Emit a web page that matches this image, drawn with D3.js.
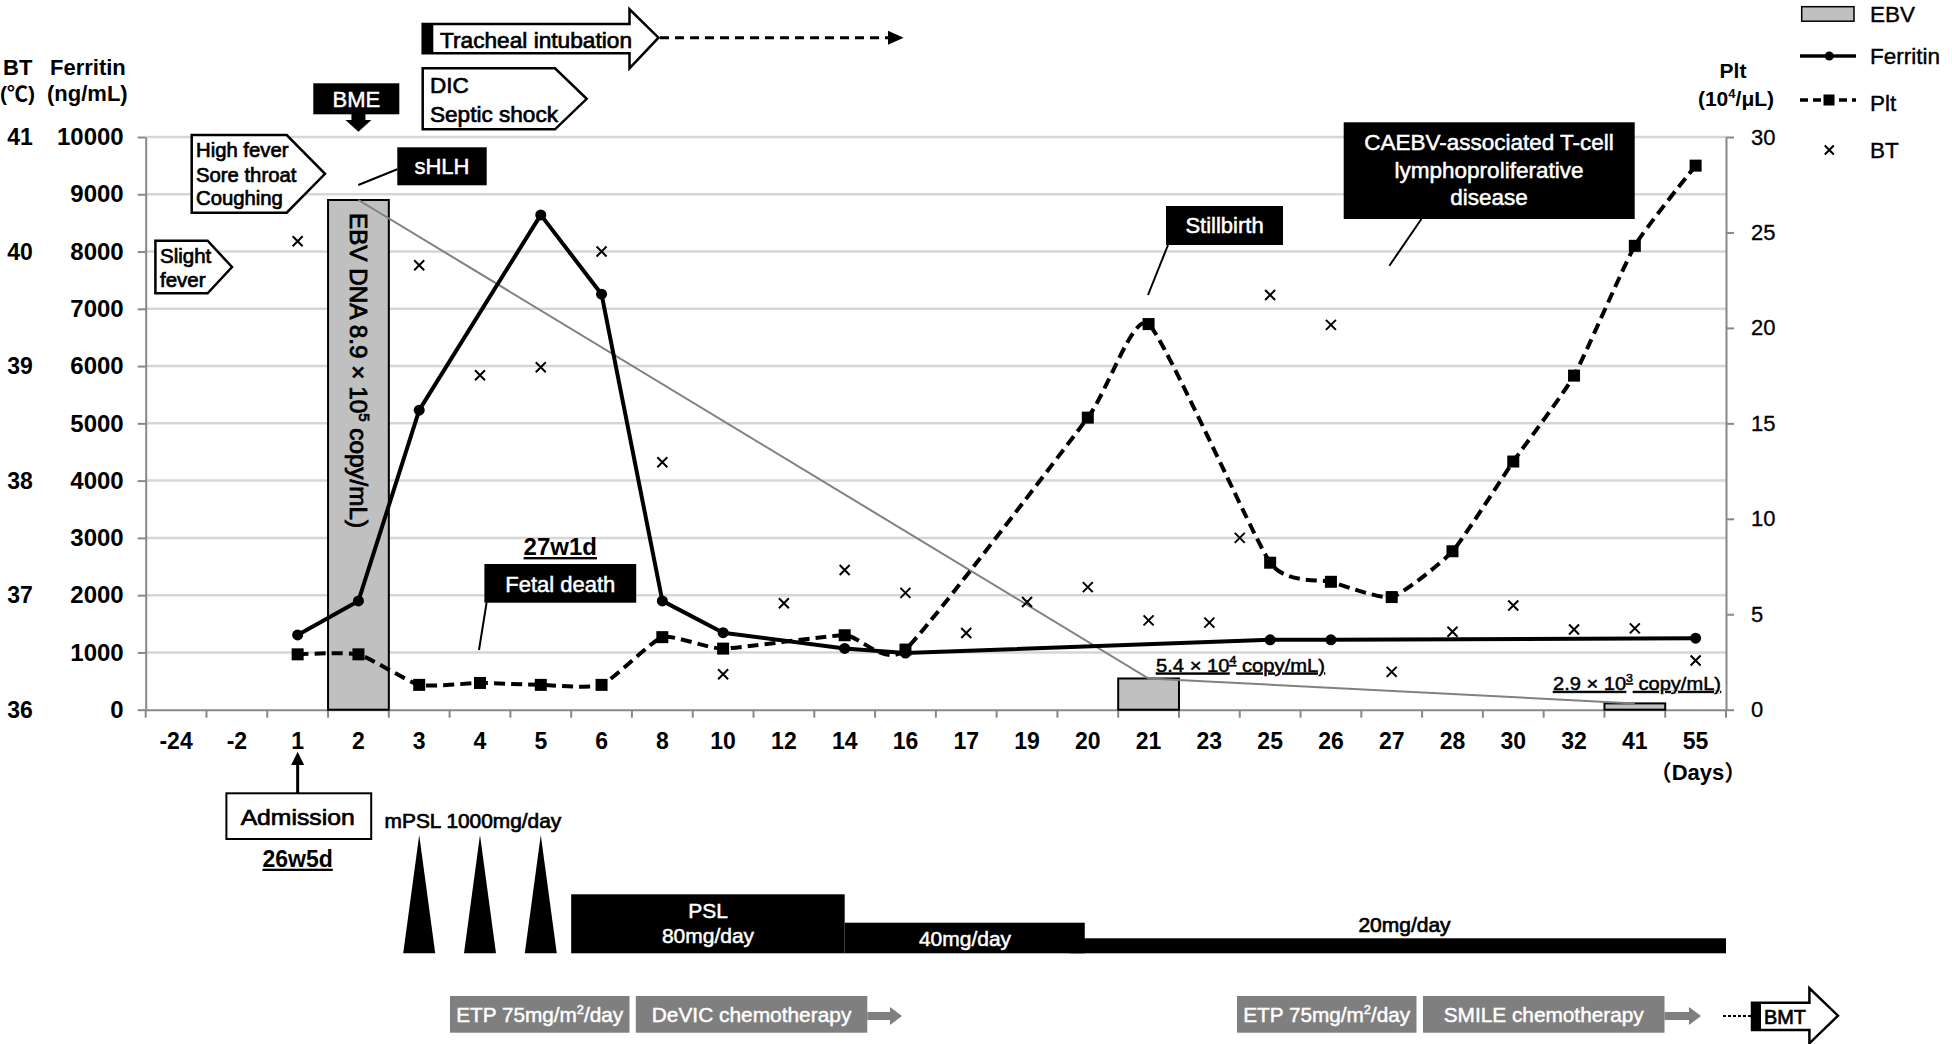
<!DOCTYPE html>
<html><head><meta charset="utf-8">
<script src="https://cdn.jsdelivr.net/npm/d3@7"></script>
<style>
body{margin:0;background:#fff}
svg{display:block}
text{font-family:"Liberation Sans",Arial,"Noto Sans CJK JP",sans-serif}
</style>
</head><body>
<svg id="c" width="1952" height="1044"></svg>
<script>
// ---------------- data ----------------
const days = ["-24","-2","1","2","3","4","5","6","8","10","12","14","16","17","19","20","21","23","25","26","27","28","30","32","41","55"];

const ferritinDays   = ["1","2","3","5","6","8","10","14","16","25","26","55"];
const ferritinValues = [1305,1900,5230,8640,7255,1900,1345,1070,990,1220,1220,1248];

const pltDays   = ["1","2","3","4","5","6","8","10","14","16","20","21","25","26","27","28","30","32","41","55"];
const pltValues = [2.9,2.9,1.3,1.4,1.3,1.3,3.8,3.2,3.9,3.15,15.3,20.2,7.7,6.7,5.9,8.3,13.0,17.5,24.3,28.5];

const btDays   = ["1","3","4","5","6","8","10","12","14","16","17","19","20","21","23","24","25","26","27","28","30","32","41","55"];
const btValues = [40.09,39.88,38.92,38.99,40.0,38.16,36.31,36.93,37.22,37.02,36.67,36.94,37.07,36.78,36.76,37.5,39.62,39.36,36.33,36.68,36.91,36.7,36.71,36.43];

const ebvDays   = ["2","21","41"];
const ebvValues = [8900,545,110];

const ferritinTicks = [0,1000,2000,3000,4000,5000,6000,7000,8000,9000,10000];
const btTicks  = [36,37,38,39,40,41];
const pltTicks = [0,5,10,15,20,25,30];

const mpslDays = ["3","4","5"];
// steroid bars in day-index units
const pslBars = [
  {from:7.0, to:11.5, h:59},
  {from:11.5,to:15.45,h:30.6},
  {from:15.2,to:26.0, h:15}
];

// ---------------- setup ----------------
const svg = d3.select("#c");
const L = 145.7, R = 1726, T = 137, B = 709.7;
const x  = d3.scaleBand().domain(days).range([L,R]).padding(0);
const xi = d3.scaleLinear().domain([0,days.length]).range([L,R]);
const yF = d3.scaleLinear().domain([0,10000]).range([B,T]);
const yP = d3.scaleLinear().domain([0,30]).range([B,T]);
const yT = d3.scaleLinear().domain([36,41]).range([B,T]);
const bw = x.bandwidth();
function cx(d){
  if (x(d) !== undefined) return x(d) + bw/2;
  const n = +d;
  const next = days.find(v => +v > n);
  return x(next);            // value between two categories -> on the boundary
}
const AX = "#888";
const SW = 0.7;

function txt(g, xx, yy, s, o={}){
  const t = g.append("text").attr("x",xx).attr("y",yy)
    .attr("font-size",o.size||22)
    .attr("font-weight",o.bold?"bold":"normal")
    .attr("fill",o.fill||"#000")
    .attr("text-anchor",o.anchor||"start");
  if (o.stroke) t.attr("stroke",o.fill||"#000").attr("stroke-width",o.stroke);
  if (o.len) t.attr("textLength",o.len).attr("lengthAdjust","spacingAndGlyphs");
  if (o.under) t.attr("text-decoration","underline");
  if (Array.isArray(s)){
    s.forEach(p=>{
      const ts=t.append("tspan").text(p.t);
      if(p.sup){ts.attr("font-size",(o.size||22)*0.62).attr("dy",-(o.size||22)*0.4);}
      if(p.after){ts.attr("dy",(o.size||22)*0.4);}
    });
  } else t.text(s);
  return t;
}

// ---------------- gridlines ----------------
svg.append("g").selectAll("line").data(ferritinTicks.filter(d=>d>0)).join("line")
  .attr("x1",L).attr("x2",R).attr("y1",d=>yF(d)).attr("y2",d=>yF(d))
  .attr("stroke","#d6d6d6").attr("stroke-width",2.5);

// ---------------- axes ----------------
const gl = svg.append("g").attr("transform",`translate(${L},0)`)
  .call(d3.axisLeft(yF).tickValues(ferritinTicks).tickSize(8).tickSizeOuter(0).tickPadding(14).tickFormat(d3.format("d")));
gl.select(".domain").attr("stroke",AX).attr("stroke-width",2);
gl.selectAll(".tick line").attr("stroke",AX).attr("stroke-width",2);
gl.selectAll(".tick text").attr("font-size",24).attr("font-weight","bold").attr("fill","#000")
  .attr("font-family","Liberation Sans, Arial, sans-serif");

svg.append("g").selectAll("text").data(btTicks).join("text")
  .attr("x",20).attr("y",d=>yT(d)).attr("dy","0.35em").attr("text-anchor","middle")
  .attr("font-size",23).attr("font-weight","bold").text(d=>d);

const gr = svg.append("g").attr("transform",`translate(${R},0)`)
  .call(d3.axisRight(yP).tickValues(pltTicks).tickSize(8).tickSizeOuter(0).tickPadding(17));
gr.select(".domain").attr("stroke",AX).attr("stroke-width",2);
gr.selectAll(".tick line").attr("stroke",AX).attr("stroke-width",2);
gr.selectAll(".tick text").attr("font-size",22).attr("fill","#000").attr("stroke","#000").attr("stroke-width",0.3)
  .attr("font-family","Liberation Sans, Arial, sans-serif");

const gb = svg.append("g").attr("transform",`translate(0,${B})`)
  .call(d3.axisBottom(x).tickSize(0).tickPadding(23));
gb.select(".domain").attr("stroke",AX).attr("stroke-width",2);
gb.selectAll(".tick text").attr("font-size",23).attr("font-weight","bold").attr("fill","#000")
  .attr("font-family","Liberation Sans, Arial, sans-serif");
svg.append("g").selectAll("line").data(d3.range(days.length+1)).join("line")
  .attr("x1",d=>xi(d)).attr("x2",d=>xi(d)).attr("y1",B).attr("y2",B+8)
  .attr("stroke",AX).attr("stroke-width",2);

// axis titles
txt(svg,3,75,"BT",{bold:true,size:22});
txt(svg,0,101,"(℃)",{bold:true,size:21});
txt(svg,50,75,"Ferritin",{bold:true,size:22});
txt(svg,47,101,"(ng/mL)",{bold:true,size:22});
txt(svg,1733,78,"Plt",{bold:true,size:21,anchor:"middle"});
txt(svg,1736,106,[{t:"(10"},{t:"4",sup:true},{t:"/μL)",after:true}],{bold:true,size:21,anchor:"middle"});
txt(svg,1698,780,"（Days）",{bold:true,size:22,anchor:"middle"});

// ---------------- EBV bars ----------------
const ebv = ebvDays.map((d,i)=>({d,v:ebvValues[i]}));
svg.append("g").selectAll("rect").data(ebv).join("rect")
  .attr("x",d=>x(d.d)).attr("y",d=>yF(d.v)).attr("width",bw).attr("height",d=>B-yF(d.v))
  .attr("fill","#c0c0c0").attr("stroke","#000").attr("stroke-width",2);
// vertical label inside first bar
{
  const cxv = cx(ebvDays[0]), cyv = 370.5;
  const g = svg.append("g").attr("transform",`translate(${cxv},${cyv}) rotate(90)`);
  const t = txt(g,0,0,[{t:"EBV DNA 8.9 × 10"},{t:"5",sup:true},{t:" copy/mL)",after:true}],{size:23,anchor:"middle",len:315,stroke:0.8});
  t.attr("dy","0.36em");
}
svg.append("path").datum(ebv)
  .attr("d",d3.line().x(d=>cx(d.d)).y(d=>yF(d.v)))
  .attr("fill","none").attr("stroke","#808080").attr("stroke-width",2);

// ---------------- Ferritin ----------------
const fer = ferritinDays.map((d,i)=>({d,v:ferritinValues[i]}));
svg.append("path").datum(fer)
  .attr("d",d3.line().x(d=>cx(d.d)).y(d=>yF(d.v)))
  .attr("fill","none").attr("stroke","#000").attr("stroke-width",4).attr("stroke-linejoin","round");
svg.append("g").selectAll("circle").data(fer).join("circle")
  .attr("cx",d=>cx(d.d)).attr("cy",d=>yF(d.v)).attr("r",5.5).attr("fill","#000");

// ---------------- Plt ----------------
const plt = pltDays.map((d,i)=>({d,v:pltValues[i]}));
svg.append("path").datum(plt)
  .attr("d",d3.line().curve(d3.curveCardinal.tension(0.5)).x(d=>cx(d.d)).y(d=>yP(d.v)))
  .attr("fill","none").attr("stroke","#000").attr("stroke-width",4).attr("stroke-dasharray","11,6");
svg.append("g").selectAll("rect").data(plt).join("rect")
  .attr("x",d=>cx(d.d)-6).attr("y",d=>yP(d.v)-6).attr("width",12).attr("height",12).attr("fill","#000");

// ---------------- BT ----------------
const bt = btDays.map((d,i)=>({d,v:btValues[i]}));
svg.append("g").selectAll("path").data(bt).join("path")
  .attr("transform",d=>`translate(${cx(d.d)},${yT(d.v)})`)
  .attr("d","M-5,-5L5,5M-5,5L5,-5").attr("stroke","#000").attr("stroke-width",2);

// copy number labels
txt(svg,1156,671.7,[{t:"5.4 × 10"},{t:"4",sup:true},{t:" copy/mL)",after:true}],{size:19,len:169,under:true,stroke:0.5});
txt(svg,1553,690,[{t:"2.9 × 10"},{t:"3",sup:true},{t:" copy/mL)",after:true}],{size:19,len:168,under:true,stroke:0.5});

// ---------------- top annotations ----------------
const ann = svg.append("g");
function pent(x0,xh,xt,y0,y1){
  ann.append("path").attr("d",`M${x0},${y0}H${xh}L${xt},${(y0+y1)/2}L${xh},${y1}H${x0}Z`)
    .attr("fill","#fff").attr("stroke","#000").attr("stroke-width",2.5);
}
function blackBox(x0,x1,y0,y1){
  ann.append("rect").attr("x",x0).attr("y",y0).attr("width",x1-x0).attr("height",y1-y0).attr("fill","#000");
}
function pointer(x0,y0,x1,y1){
  ann.append("line").attr("x1",x0).attr("y1",y0).attr("x2",x1).attr("y2",y1).attr("stroke","#000").attr("stroke-width",2);
}
// Tracheal intubation arrow
ann.append("path").attr("d","M422.7,24H629.5V9.3L658.5,37.7L629.5,68.3V53.3H422.7Z")
  .attr("fill","#fff").attr("stroke","#000").attr("stroke-width",2.5);
blackBox(422.7,433.3,24,53.3);
txt(ann,440,47.5,"Tracheal intubation",{size:22.5,len:192,stroke:SW});
ann.append("line").attr("x1",660).attr("x2",889).attr("y1",37.7).attr("y2",37.7)
  .attr("stroke","#000").attr("stroke-width",3).attr("stroke-dasharray","9,6");
ann.append("path").attr("d","M888,30.7L903.6,37.7L888,44.7Z").attr("fill","#000");

// DIC / Septic shock
pent(422.7,555,586.7,68.3,129.3);
txt(ann,430,93.3,"DIC",{size:22.5,stroke:SW});
txt(ann,430,121.7,"Septic shock",{size:22.5,len:128,stroke:SW});

// BME
const bmeX = cx("2");
blackBox(313.3,399.3,83.3,114.3);
txt(ann,356.3,106.5,"BME",{size:22,fill:"#fff",anchor:"middle",stroke:0.5});
ann.append("rect").attr("x",bmeX-7).attr("y",114).attr("width",14).attr("height",6.5).attr("fill","#000");
ann.append("path").attr("d",`M${bmeX-13},120L${bmeX+13},120L${bmeX},131.7Z`).attr("fill","#000");

// High fever
pent(191.7,286.7,325,135,212.7);
txt(ann,196,156.7,"High fever",{size:20.3,stroke:SW});
txt(ann,196,181.7,"Sore throat",{size:20.3,stroke:SW});
txt(ann,196,205,"Coughing",{size:20.3,stroke:SW});

// Slight fever
pent(155.4,207.6,232,240.7,293.3);
txt(ann,160,263,"Slight",{size:20.5,stroke:SW});
txt(ann,160,286.7,"fever",{size:20.5,stroke:SW});

// sHLH
blackBox(397.3,486.7,147.3,185.3);
txt(ann,442,174,"sHLH",{size:22,fill:"#fff",anchor:"middle",stroke:0.5});
pointer(397.3,169.3,358.3,185);

// Stillbirth
blackBox(1166,1283,206,245);
txt(ann,1224.5,233,"Stillbirth",{size:22,fill:"#fff",anchor:"middle",stroke:0.5});
pointer(1168,245,1148,295);

// CAEBV
blackBox(1343.7,1634.7,122.3,219);
txt(ann,1489,150,"CAEBV-associated T-cell",{size:22.5,fill:"#fff",anchor:"middle",stroke:0.5});
txt(ann,1489,178.3,"lymphoproliferative",{size:22.5,fill:"#fff",anchor:"middle",stroke:0.5});
txt(ann,1489,205,"disease",{size:22.5,fill:"#fff",anchor:"middle",stroke:0.5});
pointer(1421.4,219,1389.4,265.7);

// Fetal death
txt(ann,560.3,555,"27w1d",{size:24,bold:true,anchor:"middle",under:true});
blackBox(484.4,636.2,564,602.7);
txt(ann,560.3,592,"Fetal death",{size:22,fill:"#fff",anchor:"middle",stroke:0.5});
pointer(486.6,602.7,479,650);

// ---------------- legend ----------------
const lg = svg.append("g");
lg.append("rect").attr("x",1801.7).attr("y",6.7).attr("width",52.3).attr("height",14.5).attr("fill","#c0c0c0").attr("stroke","#000").attr("stroke-width",1.5);
txt(lg,1870,21.5,"EBV",{size:22.5,stroke:0.4});
lg.append("line").attr("x1",1800).attr("x2",1856).attr("y1",56).attr("y2",56).attr("stroke","#000").attr("stroke-width",3.5);
lg.append("circle").attr("cx",1829.3).attr("cy",56).attr("r",4.5).attr("fill","#000");
txt(lg,1870,64,"Ferritin",{size:22.5,stroke:0.4});
lg.append("line").attr("x1",1800).attr("x2",1856).attr("y1",100).attr("y2",100).attr("stroke","#000").attr("stroke-width",3.5).attr("stroke-dasharray","8,5");
lg.append("rect").attr("x",1823.5).attr("y",94.5).attr("width",11).attr("height",11).attr("fill","#000");
txt(lg,1870,111,"Plt",{size:22.5,stroke:0.4});
lg.append("path").attr("transform","translate(1829.3,150)").attr("d","M-4.5,-4.5L4.5,4.5M-4.5,4.5L4.5,-4.5").attr("stroke","#000").attr("stroke-width",2);
txt(lg,1870,158,"BT",{size:22.5,stroke:0.4});

// ---------------- below axis ----------------
const bot = svg.append("g");
// Admission
const admX = cx("1");
bot.append("line").attr("x1",admX).attr("x2",admX).attr("y1",762).attr("y2",793.3).attr("stroke","#000").attr("stroke-width",3);
bot.append("path").attr("d",`M${admX-6.5},765L${admX+6.5},765L${admX},751.7Z`).attr("fill","#000");
bot.append("rect").attr("x",226.4).attr("y",793.3).attr("width",144.8).attr("height",45.7).attr("fill","#fff").attr("stroke","#000").attr("stroke-width",2);
txt(bot,admX,825,"Admission",{size:22,anchor:"middle",len:114,stroke:SW});
txt(bot,admX,866.7,"26w5d",{size:23,bold:true,anchor:"middle",under:true});

// mPSL pulses
txt(bot,384.6,828.3,"mPSL 1000mg/day",{size:21,len:176.6,stroke:SW});
bot.append("g").selectAll("path").data(mpslDays).join("path")
  .attr("d",d=>`M${cx(d)},835L${cx(d)+16},953.3L${cx(d)-16},953.3Z`).attr("fill","#000");

// PSL bars
const BB = 953.3;
pslBars.forEach(b=>{
  bot.append("rect").attr("x",xi(b.from)).attr("y",BB-b.h).attr("width",xi(b.to)-xi(b.from)).attr("height",b.h).attr("fill","#000");
});
txt(bot,708,918.3,"PSL",{size:21,fill:"#fff",anchor:"middle",stroke:0.5});
txt(bot,708,943.3,"80mg/day",{size:21,fill:"#fff",anchor:"middle",stroke:0.5});
txt(bot,965,946,"40mg/day",{size:21,fill:"#fff",anchor:"middle",stroke:0.5});
txt(bot,1404.5,931.7,"20mg/day",{size:21,anchor:"middle",stroke:SW});

// chemo boxes
const G = "#7f7f7f";
function grayBox(x0,x1,parts,len){
  bot.append("rect").attr("x",x0).attr("y",996).attr("width",x1-x0).attr("height",36.7).attr("fill",G);
  txt(bot,(x0+x1)/2,1021.5,parts,{size:20,fill:"#fff",anchor:"middle",len:len,stroke:0.45});
}
function grayArrow(x0,x1){
  bot.append("rect").attr("x",x0).attr("y",1012).attr("width",x1-x0-11).attr("height",8).attr("fill",G);
  bot.append("path").attr("d",`M${x1-12},1007L${x1},1016L${x1-12},1025Z`).attr("fill",G);
}
grayBox(450,629.5,[{t:"ETP 75mg/m"},{t:"2",sup:true},{t:"/day",after:true}],167);
grayBox(635.8,867.3,"DeVIC chemotherapy",199.6);
grayArrow(867.3,902);
grayBox(1237,1416.5,[{t:"ETP 75mg/m"},{t:"2",sup:true},{t:"/day",after:true}],167);
grayBox(1423,1664.5,"SMILE chemotherapy",200);
grayArrow(1664.5,1701);

// BMT
bot.append("line").attr("x1",1723).attr("x2",1752).attr("y1",1016).attr("y2",1016).attr("stroke","#000").attr("stroke-width",1.8).attr("stroke-dasharray","3,2");
bot.append("path").attr("d","M1752,1002.7H1809.4V988.3L1838,1015.7L1809.4,1043.3V1030H1752Z").attr("fill","#fff").attr("stroke","#000").attr("stroke-width",2.5);
bot.append("rect").attr("x",1752).attr("y",1002.7).attr("width",9).attr("height",27.3).attr("fill","#000");
txt(bot,1764,1024,"BMT",{size:20,len:42,stroke:SW});
</script>
</body></html>
